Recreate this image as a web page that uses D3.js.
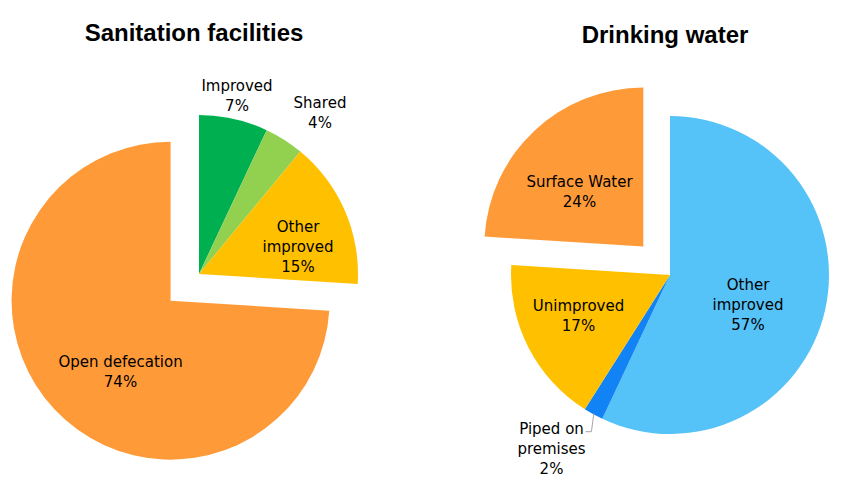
<!DOCTYPE html>
<html><head><meta charset="utf-8">
<script src="https://cdn.jsdelivr.net/npm/d3@7"></script>
<style>html,body{margin:0;padding:0;background:#fff;}</style>
</head><body>
<svg id="chart" width="842" height="489"></svg>
<script>
// ---- data ----
const sanitationCategories = ["Improved", "Shared", "Other improved", "Open defecation"];
const sanitationValues = [7, 4, 15, 74];
const sanitationExploded = ["Open defecation"];

const waterCategories = ["Other improved", "Piped on premises", "Unimproved", "Surface Water"];
const waterValues = [57, 2, 17, 24];
const waterExploded = ["Surface Water"];

const titles = ["Sanitation facilities", "Drinking water"];

// ---- styling / layout ----
const sanitationColors = ["#00B050", "#92D050", "#FFC000", "#FF9A38"];
const waterColors = ["#55C2F8", "#1283F5", "#FFC000", "#FF9A38"];
const sanitationLabelLines = [["Improved"], ["Shared"], ["Other", "improved"], ["Open defecation"]];
const waterLabelLines = [["Other", "improved"], ["Piped on", "premises"], ["Unimproved"], ["Surface Water"]];
// label anchor offsets (x centre, first baseline) from pie centre
const sanitationLabelPos = [[38, -183], [121, -165.7], [99, -42.3], [-78.5, 92.7]];
const waterLabelPos = [[78, 15], [-118.5, 159], [-91.5, 35.7], [-90.5, -87.7]];

const svg = d3.select("#chart");
const R = 159, EXPLODE = 39, LH = 20;

function drawPie(cx, cy, title, titleY, cats, vals, exploded, colors, lines, lpos, leader) {
  const g = svg.append("g").attr("transform", `translate(${cx},${cy})`);
  const pie = d3.pie().sort(null).value(d => d.v);
  const arcs = pie(cats.map((c, i) => ({c, v: vals[i], i})));
  const arc = d3.arc().innerRadius(0).outerRadius(R);
  const off = a => {
    if (!exploded.includes(a.data.c)) return [0, 0];
    const m = (a.startAngle + a.endAngle) / 2;
    return [Math.sin(m) * EXPLODE, -Math.cos(m) * EXPLODE];
  };
  g.selectAll("path.slice").data(arcs).join("path")
    .attr("class", "slice")
    .attr("d", arc)
    .attr("fill", d => colors[d.data.i])
    .attr("transform", d => { const o = off(d); return `translate(${o[0]},${o[1]})`; });

  if (leader !== undefined) {
    const a = arcs[leader];
    const m = (a.startAngle + a.endAngle) / 2;
    const p0 = [Math.sin(m) * (R - 1), -Math.cos(m) * (R - 1)];
    const lp = lpos[leader];
    const yl = lp[1] - 2.3;
    g.append("path")
      .attr("d", `M${p0[0]},${p0[1]} L${p0[0] - 2.5},${yl} L${lp[0] + 34},${yl}`)
      .attr("fill", "none").attr("stroke", "#A6A6A6").attr("stroke-width", 1);
  }

  arcs.forEach((a, i) => {
    const ls = lines[i].concat([vals[i] + "%"]);
    const t = g.append("text")
      .attr("font-family", "'DejaVu Sans', sans-serif")
      .attr("font-size", 15).attr("fill", "#000").attr("text-anchor", "middle");
    ls.forEach((s, k) => t.append("tspan").attr("x", lpos[i][0]).attr("y", lpos[i][1] + k * LH).text(s));
  });

  svg.append("text").attr("x", cx - 5 + (title === titles[1] ? 0 : 0)).attr("y", titleY)
    .attr("text-anchor", "middle")
    .attr("font-family", "'Liberation Sans', Arial, sans-serif")
    .attr("font-weight", "bold").attr("font-size", 24).attr("fill", "#000")
    .text(title);
}

drawPie(199, 274, titles[0], 40.7, sanitationCategories, sanitationValues, sanitationExploded,
  sanitationColors, sanitationLabelLines, sanitationLabelPos);
drawPie(670, 275, titles[1], 43.3, waterCategories, waterValues, waterExploded,
  waterColors, waterLabelLines, waterLabelPos, 1);
</script>
</body></html>
